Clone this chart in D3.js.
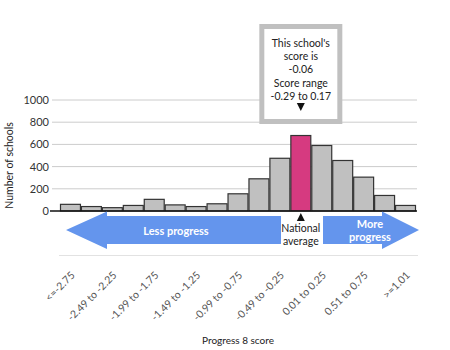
<!DOCTYPE html>
<html>
<head>
<meta charset="utf-8">
<script src="https://cdn.jsdelivr.net/npm/d3@7/dist/d3.min.js"></script>
<style>
  html, body { margin: 0; padding: 0; background: #fff; }
  svg { display: block; font-family: Lato, "Open Sans", sans-serif; }
</style>
</head>
<body>
<svg id="chart" width="450" height="350"></svg>
<script>
// Progress 8 score bands and number of schools in each
const bands = [
  "<=-2.75", "-2.74 to -2.50", "-2.49 to -2.25", "-2.24 to -2.00",
  "-1.99 to -1.75", "-1.74 to -1.50", "-1.49 to -1.25", "-1.24 to -1.00",
  "-0.99 to -0.75", "-0.74 to -0.50", "-0.49 to -0.25", "-0.24 to 0.00",
  "0.01 to 0.25", "0.26 to 0.50", "0.51 to 0.75", "0.76 to 1.00", ">=1.01"
];
const schools = [60, 40, 30, 50, 105, 55, 40, 65, 155, 290, 475, 680, 590, 455, 305, 140, 50];
const schoolBand = "-0.24 to 0.00";
const yTicks = [0, 200, 400, 600, 800, 1000];
const tooltipLines = ["This school's", "score is", "-0.06", "Score range", "-0.29 to 0.17"];

const svg = d3.select("#chart");
const plot = { left: 60, right: 416, top: 100, bottom: 211 };

const x = d3.scaleBand().domain(bands).range([plot.left, plot.right]).padding(0);
const y = d3.scaleLinear().domain([0, 1000]).range([plot.bottom, plot.top]);

// Horizontal gridlines
svg.append("g").selectAll("line").data(yTicks.slice(1)).join("line")
  .attr("x1", 52).attr("x2", 417)
  .attr("y1", d => y(d)).attr("y2", d => y(d))
  .attr("stroke", "#cccccc").attr("stroke-width", 1);

// Y axis labels
const yAxis = svg.append("g").attr("transform", `translate(${plot.left - 11},0)`)
  .call(d3.axisLeft(y).tickValues(yTicks).tickFormat(d3.format("d")).tickSize(0).tickPadding(0));
yAxis.select(".domain").remove();
yAxis.selectAll("text").attr("font-size", 11).attr("fill", "#333")
  .attr("font-family", "Lato, 'Open Sans', sans-serif");

svg.append("text")
  .attr("transform", `translate(13,${(plot.top + plot.bottom) / 2 + 10}) rotate(-90)`)
  .attr("text-anchor", "middle").attr("font-size", 10.5).attr("fill", "#222")
  .text("Number of schools");

// Bars
svg.append("g").selectAll("rect").data(bands).join("rect")
  .attr("x", d => x(d) + 0.5)
  .attr("y", (d, i) => y(schools[i]))
  .attr("width", x.bandwidth() - 1)
  .attr("height", (d, i) => plot.bottom - y(schools[i]))
  .attr("fill", d => d === schoolBand ? "#d63a80" : "#c0c0c0")
  .attr("stroke", "#333").attr("stroke-width", 1.2);

// Baseline
svg.append("line").attr("x1", 50).attr("x2", 417)
  .attr("y1", plot.bottom).attr("y2", plot.bottom)
  .attr("stroke", "#111").attr("stroke-width", 1.3);

// Tooltip box above the school's band
const cx = x(schoolBand) + x.bandwidth() / 2;
const box = svg.append("g");
box.append("rect").attr("x", cx - 39).attr("y", 26.5).attr("width", 78).attr("height", 95)
  .attr("fill", "#fff").attr("stroke", "#c0c0c0").attr("stroke-width", 5);
box.selectAll("text").data(tooltipLines).join("text")
  .attr("x", cx).attr("y", (d, i) => 47 + i * 13.2)
  .attr("text-anchor", "middle").attr("font-size", 10.5).attr("fill", "#222")
  .text(d => d);
box.append("path")
  .attr("d", `M${cx - 4},${103} L${cx + 4},${103} L${cx},${111} Z`)
  .attr("fill", "#111");

// Progress arrows
const arrowY = 230;
svg.append("path")
  .attr("d", `M66,${arrowY} L107,211.5 L107,216 L281,216 L281,244 L107,244 L107,249 Z`)
  .attr("fill", "#6495ed");
svg.append("path")
  .attr("d", `M323,216 L382,216 L382,211.5 L419,${arrowY} L382,249 L382,244 L323,244 Z`)
  .attr("fill", "#6495ed");
svg.append("text").attr("x", 176).attr("y", 234.5).attr("text-anchor", "middle")
  .attr("font-size", 11).attr("font-weight", "bold").attr("fill", "#fff")
  .text("Less progress");
svg.append("text").attr("x", 370).attr("y", 228).attr("text-anchor", "middle")
  .attr("font-size", 11).attr("font-weight", "bold").attr("fill", "#fff")
  .text("More");
svg.append("text").attr("x", 370).attr("y", 241).attr("text-anchor", "middle")
  .attr("font-size", 11).attr("font-weight", "bold").attr("fill", "#fff")
  .text("progress");

// National average marker
svg.append("path").attr("d", `M${cx},213 L${cx + 4},221 L${cx - 4},221 Z`).attr("fill", "#111");
svg.append("text").attr("x", cx).attr("y", 232).attr("text-anchor", "middle")
  .attr("font-size", 10.5).attr("fill", "#222").text("National");
svg.append("text").attr("x", cx).attr("y", 245).attr("text-anchor", "middle")
  .attr("font-size", 10.5).attr("fill", "#222").text("average");

// Separator
svg.append("line").attr("x1", 59).attr("x2", 418).attr("y1", 255.5).attr("y2", 255.5)
  .attr("stroke", "#e2e2e2").attr("stroke-width", 1);

// Rotated x labels on every other band
svg.append("g").selectAll("text").data(bands.filter((d, i) => i % 2 === 0)).join("text")
  .attr("transform", d => `translate(${x(d) + x.bandwidth() / 2 + 5},276) rotate(-45)`)
  .attr("text-anchor", "end").attr("font-size", 10.5).attr("fill", "#555")
  .text(d => d);

svg.append("text").attr("x", 238).attr("y", 344).attr("text-anchor", "middle")
  .attr("font-size", 10).attr("fill", "#222").text("Progress 8 score");
</script>
</body>
</html>
